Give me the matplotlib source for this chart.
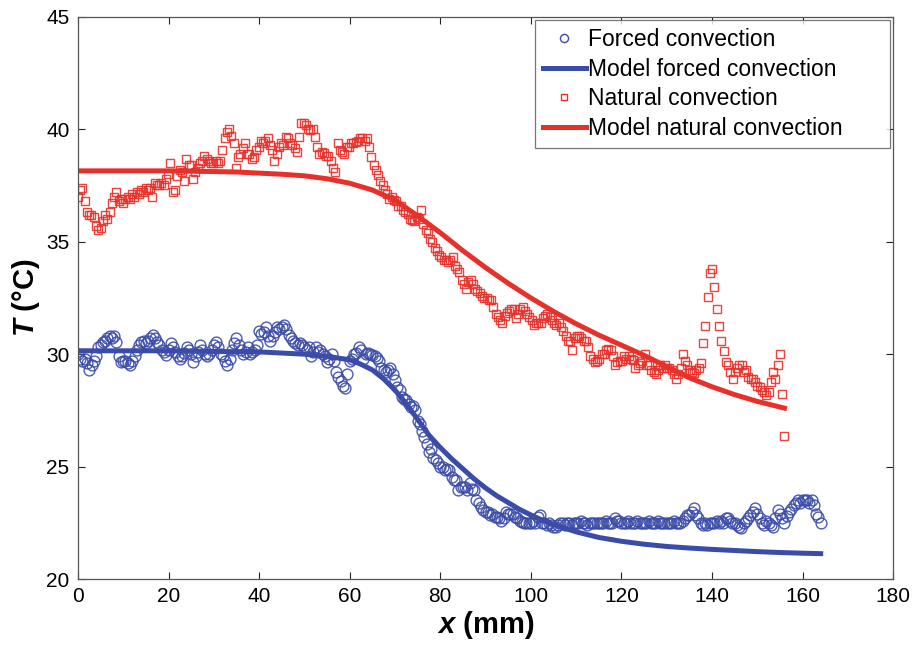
import numpy as np
import matplotlib
matplotlib.use("Agg")
import matplotlib.pyplot as plt

plt.rcParams['font.family'] = ['Liberation Sans', 'DejaVu Sans']
plt.rcParams['mathtext.fontset'] = 'custom'
plt.rcParams['mathtext.it'] = 'Liberation Sans:bold:italic'
plt.rcParams['mathtext.rm'] = 'Liberation Sans:bold'

# ---- data ----
forced_T = [
    30.0, 29.8, 29.7, 29.8, 29.6, 29.3, 29.5, 29.7, 29.9, 30.3,
    30.4, 30.55, 30.6, 30.7, 30.8, 30.7, 30.8, 30.55, 29.9, 29.65,
    29.7, 29.7, 29.6, 29.5, 29.7, 29.9, 30.2, 30.4, 30.55, 30.6,
    30.5, 30.6, 30.7, 30.85, 30.7, 30.55, 30.4, 30.2, 30.1, 29.95,
    30.2, 30.5, 30.3, 30.1, 29.9, 29.8, 29.9, 30.05, 30.3, 30.2,
    30.0, 29.65, 29.9, 30.1, 30.4, 30.2, 30.0, 29.9, 30.0, 30.2,
    30.4, 30.55, 30.3, 30.0, 29.9, 29.7, 29.5, 29.8, 30.2, 30.5,
    30.7, 30.4, 30.2, 30.0, 30.1, 30.3, 30.0, 30.1, 30.2, 30.4,
    31.05, 30.9, 31.0, 31.2, 30.8, 30.6, 30.8, 31.0, 31.2, 31.1,
    31.2, 31.3, 31.1, 30.85, 30.7, 30.6, 30.5, 30.4, 30.5, 30.4,
    30.3, 30.2, 30.3, 29.9, 30.1, 30.3, 30.1, 30.2, 30.0, 29.9,
    29.65, 29.8, 30.0, 29.7, 29.2, 29.0, 28.8, 28.6, 28.5, 29.1,
    29.7, 29.8, 30.0, 30.05, 30.3, 30.2, 29.8, 30.0, 30.05, 30.0,
    29.95, 29.9, 29.85, 29.7, 29.4, 29.3, 29.2, 29.3, 29.4, 29.1,
    28.85, 28.55, 28.4, 28.1, 28.0, 27.95, 27.8, 27.65, 27.7, 27.5,
    27.05, 26.9, 26.6, 26.3, 26.0, 25.65, 25.8, 25.4, 25.3, 25.15,
    25.0, 25.0, 24.85, 24.9, 24.85, 24.55, 24.4, 24.4, 23.95, 24.1,
    24.1, 24.1, 23.95, 24.25, 24.0, 23.95, 23.5, 23.4, 23.2, 23.05,
    23.0, 23.0, 22.85, 22.9, 22.75, 22.75, 22.7, 22.6, 22.7, 23.0,
    22.9, 22.9, 22.9, 22.75, 22.7, 22.6, 22.55, 22.5, 22.5, 22.5,
    22.5, 22.6, 22.5, 22.75, 22.85, 22.5, 22.5, 22.4, 22.5, 22.4,
    22.3, 22.3, 22.4, 22.5, 22.5, 22.4, 22.5, 22.5, 22.4, 22.5,
    22.5, 22.5, 22.6, 22.5, 22.5, 22.4, 22.5, 22.5, 22.5, 22.5,
    22.5, 22.5, 22.5, 22.6, 22.5, 22.5, 22.5, 22.7, 22.6, 22.6,
    22.5, 22.5, 22.5, 22.6, 22.5, 22.5, 22.5, 22.6, 22.5, 22.5,
    22.5, 22.5, 22.6, 22.5, 22.5, 22.5, 22.6, 22.5, 22.5, 22.5,
    22.5, 22.5, 22.5, 22.6, 22.5, 22.5, 22.5, 22.6, 22.7, 22.85,
    22.85, 23.0, 23.15, 22.85, 22.7, 22.5, 22.4, 22.5, 22.4, 22.5,
    22.5, 22.5, 22.6, 22.5, 22.6, 22.5, 22.7, 22.7, 22.6, 22.5,
    22.5, 22.4, 22.3, 22.25, 22.5, 22.6, 22.7, 22.85, 23.0, 23.15,
    22.9, 22.7, 22.5, 22.4, 22.6, 22.5, 22.4, 22.3, 22.7, 23.05,
    22.9, 22.7, 22.5, 22.8, 23.0, 23.1, 23.3, 23.4, 23.5, 23.4,
    23.5, 23.5, 23.5, 23.4, 23.5, 23.3, 22.9, 22.75, 22.5,
]
forced_x = np.linspace(0.0, 164.0, len(forced_T))

natural_T = [
    37.0, 37.3, 37.4, 36.8, 36.3, 36.2, 36.2, 36.1, 35.7, 35.5,
    35.6, 35.9, 36.2, 36.0, 36.3, 36.7, 37.0, 37.2, 36.8, 36.9,
    36.7, 36.9, 37.0, 36.9, 37.1, 37.0, 37.2, 37.1, 37.3, 37.2,
    37.4, 37.3, 37.4, 37.0, 37.6, 37.5, 37.5, 37.6, 37.5, 37.8,
    38.0, 38.5, 37.2, 37.3, 37.9, 38.2, 38.1, 37.7, 38.7, 38.4,
    38.4, 37.8, 38.1, 38.3, 38.5, 38.6, 38.8, 38.7, 38.6, 38.5,
    38.5, 38.6, 38.5, 38.6, 39.1, 39.6, 39.9, 40.0, 39.7, 39.4,
    38.3, 38.75, 38.9, 39.15, 39.4, 38.9, 38.9, 38.7, 38.75, 39.1,
    39.2, 39.5, 39.4, 39.5, 39.6, 39.3, 39.1, 38.6, 38.9, 39.2,
    39.4, 39.3, 39.65, 39.6, 39.4, 39.3, 39.15, 39.0, 39.65, 40.3,
    40.3, 40.2, 40.0, 39.95, 40.0, 39.65, 39.2, 38.9, 39.0, 38.95,
    38.8, 38.8, 38.6, 38.3, 38.1, 39.4, 39.1, 39.0, 38.9, 39.2,
    39.2, 39.4, 39.4, 39.45, 39.5, 39.6, 39.6, 39.5, 39.6, 39.2,
    38.75, 38.4, 38.2, 37.95, 37.7, 37.5, 37.3, 37.1, 36.9, 37.0,
    36.85, 36.8, 36.6, 36.6, 36.4, 36.3, 36.25, 36.0, 35.95, 35.9,
    36.1, 36.0, 36.4, 35.8, 35.5, 35.4, 35.1, 35.0, 34.7, 34.6,
    34.4, 34.3, 34.2, 34.2, 34.1, 34.2, 34.3, 33.9, 33.8, 33.65,
    33.3, 33.1, 32.9, 33.2, 33.3, 33.1, 32.9, 32.8, 32.7, 32.6,
    32.5, 32.5, 32.4, 32.4, 32.1, 31.8, 31.65, 31.5, 31.4, 31.7,
    31.85, 31.9, 32.0, 32.0, 31.6, 31.8, 32.0, 32.1, 31.9, 31.8,
    31.65, 31.5, 31.3, 31.4, 31.4, 31.4, 31.6, 31.7, 31.8, 31.65,
    31.5, 31.4, 31.3, 31.4, 31.2, 31.05, 30.8, 30.6, 30.6, 30.2,
    30.7, 30.8, 30.8, 30.7, 30.6, 30.6, 30.3, 29.9, 29.8, 29.65,
    29.7, 29.8, 30.0, 30.0, 30.2, 30.25, 30.2, 29.9, 29.5, 29.65,
    29.7, 29.7, 29.9, 29.8, 29.9, 29.8, 29.75, 29.4, 29.5, 29.6,
    29.7, 30.0, 29.5, 29.5, 29.3, 29.2, 29.1, 29.3, 29.5, 29.4,
    29.5, 29.4, 29.4, 29.3, 29.1, 28.9, 29.1, 29.4, 30.0, 29.7,
    29.5, 29.3, 29.2, 29.15, 29.3, 29.4, 29.6, 30.5, 31.25, 32.55,
    33.6, 33.8, 33.0, 32.0, 31.25, 30.6, 30.15, 29.65, 29.5, 29.2,
    28.9, 29.2, 29.4, 29.5, 29.5, 29.2, 29.3, 29.0, 28.9, 28.9,
    28.75, 28.6, 28.55, 28.4, 28.3, 28.2, 28.3, 28.75, 29.2, 28.9,
    29.5, 30.0, 28.25, 26.35,
]
natural_x = np.linspace(0.0, 156.0, len(natural_T))

model_forced_x = [0, 10, 20, 30, 40, 45, 50, 55, 60, 62.5, 65, 67.5, 70, 72.5, 75,
                  77.5, 80, 82.5, 85, 87.5, 90, 92.5, 95, 97.5, 100, 102.5, 105,
                  110, 115, 120, 125, 130, 135, 140, 145, 150, 155, 160, 164]
model_forced_T = [30.15, 30.15, 30.15, 30.12, 30.1, 30.05, 30.0, 29.9, 29.75, 29.55,
                  29.3, 28.9, 28.4, 27.8, 27.1, 26.4, 25.85, 25.35, 24.9, 24.45,
                  24.05, 23.7, 23.4, 23.1, 22.85, 22.62, 22.42, 22.1, 21.85, 21.68,
                  21.55, 21.45, 21.38, 21.32, 21.27, 21.22, 21.18, 21.15, 21.13]

model_natural_x = [0, 10, 20, 30, 35, 40, 45, 50, 55, 60, 65, 70, 75, 80, 85, 90,
                   95, 100, 105, 110, 115, 120, 125, 130, 135, 140, 145, 150, 156]
model_natural_T = [38.15, 38.15, 38.15, 38.12, 38.1, 38.05, 38.0, 37.93, 37.8, 37.6,
                   37.3, 36.85, 36.15, 35.4, 34.6, 33.85, 33.15, 32.5, 31.9, 31.35,
                   30.85, 30.4, 29.95, 29.45, 28.95, 28.55, 28.2, 27.9, 27.6]

xticks = [0, 20, 40, 60, 80, 100, 120, 140, 160, 180]
yticks = [20, 25, 30, 35, 40, 45]

# ---- style ----
blue = '#3a4ba8'
red = '#e8302a'

fig = plt.figure(figsize=(9.17, 6.47), dpi=100)
ax = fig.add_axes([0.085, 0.105, 0.889, 0.869])

ax.plot(forced_x, forced_T, linestyle='none', marker='o', markersize=7.8,
        markerfacecolor='none', markeredgecolor=blue, markeredgewidth=1.0,
        alpha=0.9, label='Forced convection')
ax.plot(model_forced_x, model_forced_T, color=blue, linewidth=3.6,
        label='Model forced convection')
ax.plot(natural_x, natural_T, linestyle='none', marker='s', markersize=6,
        markerfacecolor='none', markeredgecolor=red, markeredgewidth=1.0,
        alpha=0.9, label='Natural convection')
ax.plot(model_natural_x, model_natural_T, color=red, linewidth=3.6,
        label='Model natural convection')

ax.set_xlim(0, 180)
ax.set_ylim(20, 45)
ax.set_xticks(xticks)
ax.set_yticks(yticks)
ax.tick_params(direction='in', top=True, right=True, length=5, width=0.8,
               labelsize=15, colors='#222222', labelcolor='black', pad=6)
for s in ax.spines.values():
    s.set_color('#555555')
    s.set_linewidth(0.9)

ax.set_xlabel(r'$x$ (mm)', fontsize=21, fontweight='bold', labelpad=2)
ax.set_ylabel(r'$T$ (°C)', fontsize=21, fontweight='bold', labelpad=3)

leg = ax.legend(loc='upper left', bbox_to_anchor=(0.561, 0.995, 0.435, 0.0),
                mode='expand', borderaxespad=0.0,
                fontsize=16.5, frameon=True, fancybox=False,
                handlelength=1.85, handletextpad=0.12,
                labelspacing=0.3, borderpad=0.35, markerscale=0.75)
leg.get_frame().set_edgecolor('#555555')
leg.get_frame().set_linewidth(0.9)
for h in leg.legend_handles:
    h.set_alpha(1.0)

fig.savefig('out.png', dpi=100)
